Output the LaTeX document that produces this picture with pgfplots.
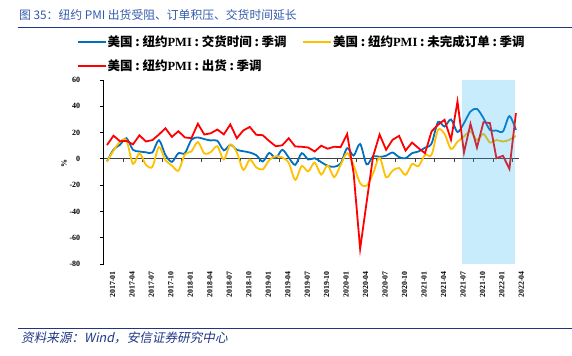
\documentclass[border=0pt]{standalone}
\usepackage{pgfplots}
\usepackage{pgfplotstable}
\pgfplotsset{compat=1.18}
\usepackage{fontspec}
\setmainfont{Liberation Serif}
\newfontfamily\cjk{Noto Sans CJK SC}
\newfontfamily\cjkit[FakeSlant=0.2]{Noto Sans CJK SC}
\definecolor{cblue}{RGB}{0,112,192}
\definecolor{cyel}{RGB}{255,192,0}
\definecolor{cred}{RGB}{255,0,0}
\definecolor{shade}{RGB}{35,179,243}
\definecolor{titleblue}{RGB}{50,90,170}
\definecolor{navy}{RGB}{30,55,130}
\newcommand\cl{\hspace{0.22em}:\hspace{0.22em}}
\pgfplotstableread{
m blue yellow red
0 -2 -2 10.5
1 7 6.2 17.6
2 10.7 13 13.4
3 15.7 14 13.7
4 6.9 -3.8 11
5 5.6 4.3 17.9
6 5 -4.6 13.2
7 4.8 -6 14.3
8 14.2 9 18.5
9 3 -1 23.3
10 -2.3 -5 16.7
11 4.3 -9 21
12 4.3 3.5 16.3
13 14.5 5.6 15.7
14 16.3 12.8 26.7
15 15 4 18.5
16 14 5.2 19.5
17 13.8 9.6 22.3
18 6.5 -0.5 18.6
19 10.7 11 26.2
20 6.9 5 15.7
21 5.8 -8.4 21.6
22 4.8 -0.5 24.3
23 2.8 -6.5 18.3
24 -2 -8 18
25 4.5 -1 13.5
26 0.5 2 9.6
27 6.9 1 10.3
28 1 -3 15.7
29 -4.6 -16 9.4
30 4.3 -5.5 9.2
31 -0.5 -9.6 8.6
32 0.5 -2.8 5.6
33 -2.5 -12 10
34 -5.3 -5 7.7
35 -6 -14 9.2
36 -3.5 -4.6 8.9
37 8.1 4.3 18.9
38 2.5 -5 -11
39 11.3 -18.5 -68.5
40 -4.2 -20.5 -33
41 2 -11 2
42 1.5 1 18.5
43 2.4 -14 6.9
44 4.8 -9 14.5
45 1.3 -7 17.5
46 0.5 -12.2 6.3
47 4.3 -4 12.4
48 5.6 -5.5 8.1
49 8.5 3 4.3
50 11.6 3 20.8
51 28 22 25.9
52 24.6 19 29.7
53 30 7.5 14.5
54 20.4 13 43.7
55 27.2 17 4.8
56 36 21 26.6
57 38 14.3 8.6
58 31 19 27.9
59 22 12.4 27.2
60 21.6 14.3 0.5
61 20.8 13.2 2.3
62 32.5 14.5 -7.6
63 22 17.5 34.8
}\datatable
\begin{document}
\begin{tikzpicture}
\useasboundingbox (0,0) rectangle (572bp,356bp);
% title
\node[anchor=west, inner sep=0, text=titleblue] at (19bp,340.5bp) {\cjk\fontsize{11.8bp}{14bp}\selectfont 图 35：纽约 PMI 出货受阻、订单积压、交货时间延长};
\draw[navy, line width=1.5bp] (18bp,328.3bp) -- (572bp,328.3bp);
% legend
\draw[cblue, line width=2bp] (78bp,314bp) -- (106bp,314bp);
\node[anchor=west, inner sep=0] at (107.5bp,314bp) {\fontsize{12.5bp}{14bp}\selectfont{\cjk\bfseries 美国\cl 纽约}{\bfseries PMI}{\cjk\bfseries \cl 交货时间\cl 季调}};
\draw[cyel, line width=2bp] (303bp,314bp) -- (331bp,314bp);
\node[anchor=west, inner sep=0] at (333bp,314bp) {\fontsize{12.5bp}{14bp}\selectfont{\cjk\bfseries 美国\cl 纽约}{\bfseries PMI}{\cjk\bfseries \cl 未完成订单\cl 季调}};
\draw[cred, line width=2bp] (78bp,290bp) -- (106bp,290bp);
\node[anchor=west, inner sep=0] at (107.5bp,290bp) {\fontsize{12.5bp}{14bp}\selectfont{\cjk\bfseries 美国\cl 纽约}{\bfseries PMI}{\cjk\bfseries \cl 出货\cl 季调}};
% y label
\node[rotate=90, inner sep=0, font=\bfseries\fontsize{8bp}{9bp}\selectfont] at (64bp,192bp) {\%};
% footer
\draw[navy, line width=0.8bp] (18bp,28bp) -- (572bp,28bp);
\node[anchor=west, inner sep=0, text=navy] at (21bp,18.5bp) {\cjkit\fontsize{12.6bp}{14bp}\selectfont 资料来源：Wind，安信证券研究中心};
\begin{axis}[
  at={(103.75bp,92bp)}, anchor=south west,
  width=415.4bp, height=184bp, scale only axis,
  xmin=-0.5, xmax=63.5, ymin=-80, ymax=60,
  axis y line*=left, axis x line*=bottom,
  x axis line style={draw=none},
  y axis line style={black, line width=1bp},
  xtick={0,3,...,63},
  xticklabels={2017-01,2017-04,2017-07,2017-10,2018-01,2018-04,2018-07,2018-10,2019-01,2019-04,2019-07,2019-10,2020-01,2020-04,2020-07,2020-10,2021-01,2021-04,2021-07,2021-10,2022-01,2022-04},
  xtick style={draw=none},
  ytick={-80,-60,...,60},
  ytick style={black, line width=0.8bp},
  tick align=outside, major tick length=4bp,
  /pgf/number format/assume math mode=true,
  xticklabel style={rotate=90, anchor=east, font=\bfseries\fontsize{7.8bp}{8bp}\selectfont, yshift=-5.5bp},
  yticklabel style={font=\bfseries\fontsize{8bp}{9bp}\selectfont, xshift=-16bp},
  clip=true,
]
\draw[black!75, line width=1.3bp] (axis cs:-0.5,0) -- (axis cs:63.5,0);
\pgfplotsinvokeforeach{2.5,5.5,...,62.5}{\draw[black!75, line width=0.8bp] (axis cs:#1,0) -- (axis cs:#1,-2.3);}
\addplot[cblue, line width=1.8bp, smooth, no markers] table[x=m, y=blue]{\datatable};
\addplot[cyel, line width=1.8bp, smooth, no markers] table[x=m, y=yellow]{\datatable};
\addplot[cred, line width=1.8bp, no markers] table[x=m, y=red]{\datatable};
\addplot[draw=none, fill=shade, fill opacity=0.25, forget plot] coordinates {(54.7,-80) (54.7,60) (62.9,60) (62.9,-80)} -- cycle;
\end{axis}
\end{tikzpicture}
\end{document}
